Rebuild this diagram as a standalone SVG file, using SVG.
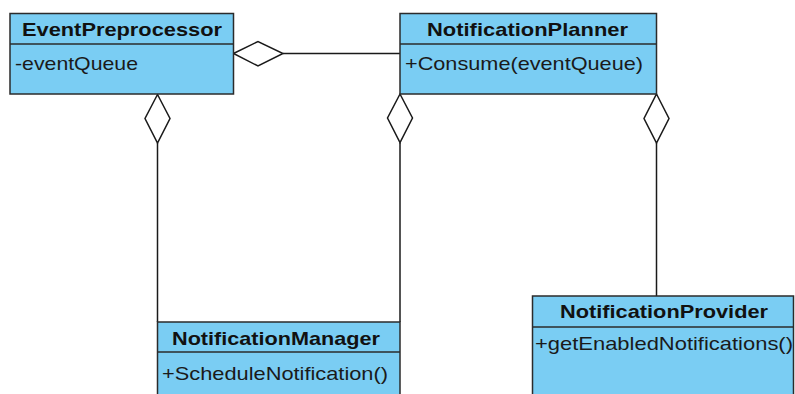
<svg xmlns="http://www.w3.org/2000/svg" width="795" height="394" viewBox="0 0 795 394">
  <style>
    .box { fill: #7acdf3; stroke: #2b2b2b; stroke-width: 1.5; }
    .sep { stroke: #2b2b2b; stroke-width: 1.5; }
    .title { font-family: "Liberation Sans", Arial, sans-serif; font-size: 19px; font-weight: bold; fill: #111; }
    .member { font-family: "Liberation Sans", Arial, sans-serif; font-size: 19px; fill: #1a1a1a; }
    .edge { fill: none; stroke: #1a1a1a; stroke-width: 1.5; }
    .agg { fill: #ffffff; stroke: #1a1a1a; stroke-width: 1.5; stroke-linejoin: miter; }
  </style>
  <rect width="795" height="394" fill="#ffffff"/>

  <!-- aggregation connectors (diamond at the whole side) -->
  <g id="connectors">
    <!-- EventPreprocessor <>- NotificationPlanner -->
    <path class="edge" d="M283 53.5 H400"/>
    <polygon class="agg" points="233.5,53.5 258,41.5 283,53.5 258,66"/>
    <!-- EventPreprocessor <>- NotificationManager -->
    <path class="edge" d="M157.5 143 V322"/>
    <polygon class="agg" points="157.5,94.5 170,118.5 157.5,143 145,118.5"/>
    <!-- NotificationPlanner <>- NotificationManager -->
    <path class="edge" d="M400 142.5 V322"/>
    <polygon class="agg" points="400,94 412.5,118 400,142.5 387.5,118"/>
    <!-- NotificationPlanner <>- NotificationProvider -->
    <path class="edge" d="M656.5 143 V296"/>
    <polygon class="agg" points="656.5,94 669,118.5 656.5,143 644,118.5"/>
  </g>

  <g id="EventPreprocessor">
    <rect class="box" x="10" y="13.5" width="223.5" height="80.5"/>
    <line class="sep" x1="10" y1="44" x2="233.5" y2="44"/>
    <text class="title" x="22" y="36" textLength="200" lengthAdjust="spacingAndGlyphs">EventPreprocessor</text>
    <text class="member" x="15" y="70" textLength="123" lengthAdjust="spacingAndGlyphs">-eventQueue</text>
  </g>

  <g id="NotificationPlanner">
    <rect class="box" x="400" y="13.5" width="256.5" height="80.5"/>
    <line class="sep" x1="400" y1="44" x2="656.5" y2="44"/>
    <text class="title" x="427" y="36" textLength="201" lengthAdjust="spacingAndGlyphs">NotificationPlanner</text>
    <text class="member" x="405" y="70" textLength="238" lengthAdjust="spacingAndGlyphs">+Consume(eventQueue)</text>
  </g>

  <g id="NotificationManager">
    <rect class="box" x="157.5" y="322" width="242.5" height="90"/>
    <line class="sep" x1="157.5" y1="352" x2="400" y2="352"/>
    <text class="title" x="172" y="345" textLength="208" lengthAdjust="spacingAndGlyphs">NotificationManager</text>
    <text class="member" x="162" y="380" textLength="226" lengthAdjust="spacingAndGlyphs">+ScheduleNotification()</text>
  </g>

  <g id="NotificationProvider">
    <rect class="box" x="532.5" y="296" width="261" height="110"/>
    <line class="sep" x1="532.5" y1="327" x2="793.5" y2="327"/>
    <text class="title" x="560" y="318" textLength="208" lengthAdjust="spacingAndGlyphs">NotificationProvider</text>
    <text class="member" x="535" y="350" textLength="258" lengthAdjust="spacingAndGlyphs">+getEnabledNotifications()</text>
  </g>
</svg>
